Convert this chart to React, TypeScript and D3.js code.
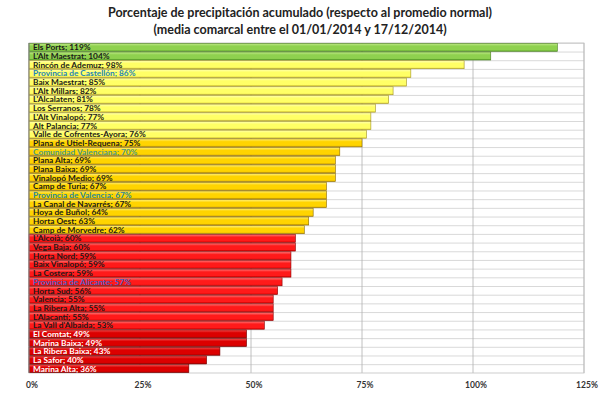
import React from "react";
import * as d3 from "d3";

// comarcas ordenadas de mayor a menor
const comarcas = [
  "Els Ports", "L'Alt Maestrat", "Rincón de Ademuz", "Provincia de Castellón",
  "Baix Maestrat", "L'Alt Millars", "L'Alcalaten", "Los Serranos",
  "L'Alt Vinalopó", "Alt Palancia", "Valle de Cofrentes-Ayora",
  "Plana de Utiel-Requena", "Comunidad Valenciana", "Plana Alta", "Plana Baixa",
  "Vinalopó Medio", "Camp de Turia", "Provincia de Valencia",
  "La Canal de Navarrés", "Hoya de Buñol", "Horta Oest", "Camp de Morvedre",
  "L'Alcoià", "Vega Baja", "Horta Nord", "Baix Vinalopó", "La Costera",
  "Provincia de Alicante", "Horta Sud", "Valencia", "La Ribera Alta",
  "L'Alacantí", "La Vall d'Albaida", "El Comtat", "Marina Baixa",
  "La Ribera Baixa", "La Safor", "Marina Alta",
];
const porcentajes = [
  119, 104, 98, 86, 85, 82, 81, 78, 77, 77, 76, 75, 70, 69, 69, 69, 67, 67, 67,
  64, 63, 62, 60, 60, 59, 59, 59, 57, 56, 55, 55, 55, 53, 49, 49, 43, 40, 36,
];
const ticks = [0, 25, 50, 75, 100, 125];
const titulo = [
  "Porcentaje de precipitación acumulado (respecto al promedio normal)",
  "(media comarcal entre el 01/01/2014 y 17/12/2014)",
];

const W = 600, H = 393;
const m = { left: 29, right: 16, top: 43, bottom: 20 };

const grupo = (v: number) => (v >= 100 ? "g" : v >= 76 ? "y1" : v >= 62 ? "y2" : v >= 50 ? "r1" : "r2");
const grad: Record<string, [string, string, string, string]> = {
  g: ["#c4ec8c", "#8fd14f", "#5ea62a", "#4a7d22"],
  y1: ["#ffffb0", "#ffff66", "#e6d83a", "#a09020"],
  y2: ["#fff07a", "#ffd400", "#d9a800", "#8a6a00"],
  r1: ["#ff7a7a", "#ff1a1a", "#d40000", "#8a0000"],
  r2: ["#f05050", "#dc0000", "#aa0000", "#700000"],
};
const provColor: Record<string, string> = {
  "Provincia de Castellón": "#1f86b8",
  "Comunidad Valenciana": "#4b9a86",
  "Provincia de Valencia": "#2a8a9c",
  "Provincia de Alicante": "#4a5cc0",
};

export default function App() {
  const x = d3.scaleLinear().domain([0, 125]).range([m.left, W - m.right]);
  const y = d3.scaleBand<string>().domain(comarcas).range([m.top, H - m.bottom]).paddingInner(0.08).paddingOuter(0.04);
  const step = y.step();
  const font = "Lato, 'Open Sans', sans-serif";

  return (
    <svg width={W} height={H} style={{ position: "fixed", left: 0, top: 0, background: "#fff" }}>
      <defs>
        {Object.entries(grad).map(([k, c]) => (
          <linearGradient key={k} id={"gr-" + k} x1="0" y1="0" x2="0" y2="1">
            <stop offset="0" stopColor={c[0]} />
            <stop offset="0.35" stopColor={c[1]} />
            <stop offset="0.8" stopColor={c[1]} />
            <stop offset="1" stopColor={c[2]} />
          </linearGradient>
        ))}
      </defs>
      {titulo.map((t, i) => (
        <text key={i} x={W / 2} y={17 + i * 17} textAnchor="middle" fontFamily={font} fontWeight="bold" fontSize={12.5} fill="#222">
          {t}
        </text>
      ))}
      {/* rejilla */}
      {comarcas.map((c, i) => (
        <line key={"h" + i} x1={m.left} x2={W - m.right} y1={m.top + y.paddingOuter() * step + i * step} y2={m.top + y.paddingOuter() * step + i * step} stroke="#c8c8c8" strokeWidth={0.7} />
      ))}
      {ticks.map((t) => (
        <line key={"v" + t} x1={x(t)} x2={x(t)} y1={m.top} y2={H - m.bottom} stroke="#b0b0b0" strokeWidth={0.8} />
      ))}
      <rect x={m.left} y={m.top} width={x(125) - m.left} height={H - m.bottom - m.top} fill="none" stroke="#c0c0c0" strokeWidth={0.8} />
      {comarcas.map((c, i) => {
        const v = porcentajes[i];
        const g = grupo(v);
        return (
          <g key={c}>
            <rect x={x(0)} y={y(c)} width={x(v) - x(0)} height={y.bandwidth()} fill={`url(#gr-${g})`} stroke={grad[g][3]} strokeWidth={0.6} />
            <text x={x(0) + 4} y={(y(c) ?? 0) + y.bandwidth() / 2 + 3} fontFamily={font} fontWeight="bold" fontSize={8.3}
              fill={provColor[c] ?? (g === "r2" ? "#fff" : "#1a1a1a")}>
              {c}; {v}%
            </text>
          </g>
        );
      })}
      <line x1={m.left} x2={m.left} y1={m.top} y2={H - m.bottom} stroke="#888" strokeWidth={1} />
      {ticks.map((t) => (
        <text key={"t" + t} x={x(t) + 3} y={H - 5} textAnchor="middle" fontFamily={font} fontWeight="bold" fontSize={8.5} fill="#333">
          {t}%
        </text>
      ))}
    </svg>
  );
}
